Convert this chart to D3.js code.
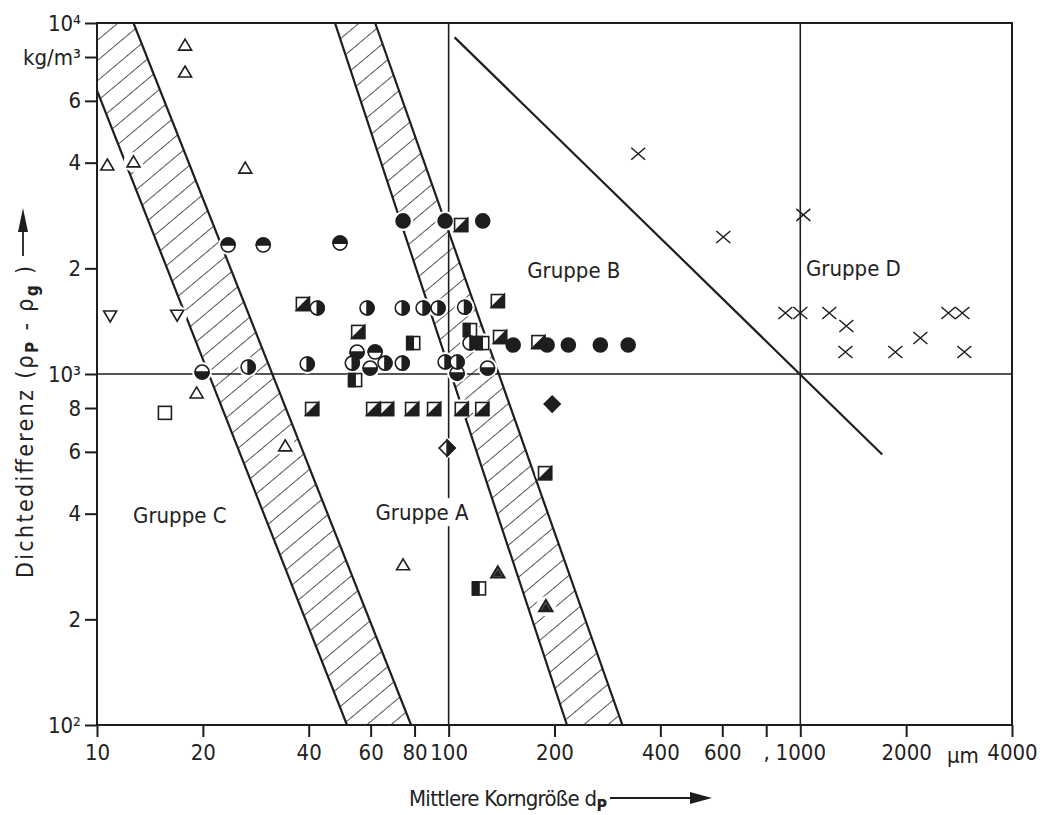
<!DOCTYPE html>
<html>
<head>
<meta charset="utf-8">
<script src="https://cdn.jsdelivr.net/npm/d3@7"></script>
<style>
body { margin: 0; background: #fff; }
svg text { font-family: "DejaVu Sans Condensed", "Liberation Sans Narrow", "DejaVu Sans", sans-serif; fill: #222; }
</style>
</head>
<body>
<svg></svg>
<script>
const width = 1048;
const height = 815;

// axes
const xTicks = [10, 20, 40, 60, 80, 100, 200, 400, 600, 800, 1000, 2000, 4000];
const xTickLabels = ['10', '20', '40', '60', '80', '100', '200', '400', '600', ',', '1000', '2000', '4000'];
const yTicks = [100, 200, 400, 600, 800, 1000, 2000, 4000, 6000, 8000, 10000];
const yTickLabels = ['10²', '2', '4', '6', '8', '10³', '2', '4', '6', 'kg/m³', '10⁴'];
const gridX = [100, 1000];
const gridY = [1000];

// group boundaries [d in µm, density difference in kg/m³]
const bandCA = [[8.4, 10000], [51.4, 100], [78.2, 100], [12.7, 10000]];
const bandAB = [[47.5, 10000], [217, 100], [312, 100], [61.8, 10000]];
const lineBD = [[104, 9100], [1710, 590]];

const groupNames = ['Gruppe C', 'Gruppe A', 'Gruppe B', 'Gruppe D'];
const groupAnchors = [[17.2, 397], [84, 404], [227, 1978], [1416, 2004]];

// measured substances
const triUp = [[17.8, 8650], [17.8, 7250], [10.7, 3940], [12.7, 4020], [26.4, 3860], [19.2, 883], [34.3, 624], [74.2, 286]];
const triDown = [[10.9, 1463], [16.9, 1470]];
const triFilled = [[138, 272], [189, 218]];
const squareOpen = [[15.6, 775]];
const squareDiag = [[38.5, 1583], [55.3, 1318], [138, 1614], [140, 1275], [180, 1233], [108.5, 2658], [188, 522],
	[40.9, 795], [61.0, 795], [66.8, 795], [78.7, 795], [90.9, 795], [109, 795], [124.6, 795]];
const squareHalf = [[79.3, 1225], [115, 1334], [124.6, 1225], [54.2, 961], [122, 245]];
const circleTop = [[23.6, 2330], [29.7, 2330], [49.1, 2360], [61.8, 1155]];
const circleBottom = [[19.9, 1013], [54.9, 1155], [59.8, 1040], [105.7, 1006], [129, 1040]];
const circleRight = [[42.3, 1542], [58.6, 1542], [73.8, 1542], [84.6, 1542], [93.3, 1542], [111, 1550],
	[26.9, 1047], [39.6, 1068], [53.2, 1074], [65.9, 1074], [73.8, 1074], [97.7, 1082], [105.7, 1082], [115, 1225]];
const dots = [[74.2, 2730], [97.7, 2730], [125, 2730], [152.6, 1209], [190.6, 1209], [219, 1209], [270, 1209], [324, 1209]];
const diamondFilled = [[197, 821]];
const diamondHalf = [[99, 615]];
const crosses = [[346, 4240], [604, 2456], [1020, 2840], [907, 1492], [1000, 1492], [1209, 1492], [1352, 1370],
	[1344, 1155], [1864, 1155], [2195, 1266], [2637, 1492], [2890, 1492], [2928, 1155]];

const ink = '#1e1e1e';

const svg = d3.select('svg')
	.attr('width', width)
	.attr('height', height);

const x = d3.scaleLog().domain([10, 4000]).range([97, 1012]);
const y = d3.scaleLog().domain([100, 10000]).range([725, 23]);

const defs = svg.append('defs');
defs.append('clipPath').attr('id', 'plot')
	.append('rect')
	.attr('x', x(10)).attr('y', y(10000))
	.attr('width', x(4000) - x(10)).attr('height', y(100) - y(10000));
defs.append('pattern')
	.attr('id', 'hatch')
	.attr('patternUnits', 'userSpaceOnUse')
	.attr('width', 15.5).attr('height', 15.5)
	.attr('patternTransform', 'rotate(50)')
	.append('line')
	.attr('x1', 0).attr('y1', 0).attr('x2', 0).attr('y2', 15.5)
	.attr('stroke', ink).attr('stroke-width', 1.5);

const plot = svg.append('g').attr('clip-path', 'url(#plot)');

// grid lines
plot.selectAll('.gx').data(gridX).enter().append('line')
	.attr('x1', d => x(d)).attr('x2', d => x(d))
	.attr('y1', y(10000)).attr('y2', y(100))
	.attr('stroke', ink).attr('stroke-width', 1.6);
plot.selectAll('.gy').data(gridY).enter().append('line')
	.attr('x1', x(10)).attr('x2', x(4000))
	.attr('y1', d => y(d)).attr('y2', d => y(d))
	.attr('stroke', ink).attr('stroke-width', 1.6);

// hatched bands
const pt = d => [x(d[0]), y(d[1])];
[bandCA, bandAB].forEach(band => {
	plot.append('polygon')
		.attr('points', band.map(pt).map(p => p.join(',')).join(' '))
		.attr('fill', 'url(#hatch)');
	[[band[0], band[1]], [band[2], band[3]]].forEach(seg => {
		plot.append('line')
			.attr('x1', x(seg[0][0])).attr('y1', y(seg[0][1]))
			.attr('x2', x(seg[1][0])).attr('y2', y(seg[1][1]))
			.attr('stroke', ink).attr('stroke-width', 2.2);
	});
});

plot.append('path')
	.attr('d', d3.line()(lineBD.map(pt)))
	.attr('stroke', ink).attr('stroke-width', 2.2).attr('fill', 'none');

// group labels with white background
const labels = plot.selectAll('.grp').data(groupNames).enter().append('g')
	.attr('transform', (d, i) => `translate(${x(groupAnchors[i][0])},${y(groupAnchors[i][1])})`);
labels.append('rect')
	.attr('x', -52).attr('y', -14).attr('width', 104).attr('height', 28)
	.attr('fill', '#fff');
labels.append('text')
	.attr('text-anchor', 'middle')
	.attr('dy', '0.36em')
	.attr('font-size', 22)
	.text(d => d);

// markers
const sets = [
	['triUp', triUp], ['triDown', triDown], ['triFilled', triFilled], ['squareOpen', squareOpen],
	['squareDiag', squareDiag], ['squareHalf', squareHalf], ['circleTop', circleTop],
	['circleBottom', circleBottom], ['circleRight', circleRight], ['dot', dots],
	['diamondFilled', diamondFilled], ['diamondHalf', diamondHalf], ['cross', crosses]
];
const allMarks = [];
sets.forEach(s => s[1].forEach(d => allMarks.push({ type: s[0], d: d[0], r: d[1] })));

// white halos first, so that lines break around the marks
plot.selectAll('.halo').data(allMarks.filter(m => m.type !== 'cross')).enter().append('circle')
	.attr('cx', m => x(m.d)).attr('cy', m => y(m.r))
	.attr('r', 10).attr('fill', '#fff');

const r = 7;
const s = 6.5;
const marks = plot.selectAll('.mark').data(allMarks).enter().append('g')
	.attr('transform', m => `translate(${x(m.d)},${y(m.r)})`)
	.attr('stroke', ink).attr('stroke-width', 1.6).attr('fill', '#fff');

marks.each(function (m) {
	const g = d3.select(this);
	switch (m.type) {
	case 'triUp':
		g.append('path').attr('d', 'M0,-6L6.5,5L-6.5,5Z');
		break;
	case 'triDown':
		g.append('path').attr('d', 'M0,6L6.5,-5L-6.5,-5Z');
		break;
	case 'triFilled':
		g.append('path').attr('d', 'M0,-6L6.5,5L-6.5,5Z').attr('stroke-width', 2.2);
		g.append('path').attr('d', 'M0,-2L3,3L-3,3Z').attr('fill', ink);
		break;
	case 'squareOpen':
		g.append('rect').attr('x', -s).attr('y', -s).attr('width', 2 * s).attr('height', 2 * s);
		break;
	case 'squareDiag':
		g.append('rect').attr('x', -s).attr('y', -s).attr('width', 2 * s).attr('height', 2 * s);
		g.append('path').attr('d', `M${s},${-s}L${s},${s}L${-s},${s}Z`).attr('fill', ink);
		break;
	case 'squareHalf':
		g.append('rect').attr('x', -s).attr('y', -s).attr('width', 2 * s).attr('height', 2 * s);
		g.append('rect').attr('x', -s).attr('y', -s).attr('width', s).attr('height', 2 * s).attr('fill', ink);
		break;
	case 'circleTop':
		g.append('circle').attr('r', r);
		g.append('path').attr('d', `M${-r},0A${r},${r} 0 0 1 ${r},0Z`).attr('fill', ink);
		break;
	case 'circleBottom':
		g.append('circle').attr('r', r);
		g.append('path').attr('d', `M${-r},0A${r},${r} 0 0 0 ${r},0Z`).attr('fill', ink);
		break;
	case 'circleRight':
		g.append('circle').attr('r', r);
		g.append('path').attr('d', `M0,${-r}A${r},${r} 0 0 1 0,${r}Z`).attr('fill', ink);
		break;
	case 'dot':
		g.append('circle').attr('r', r).attr('fill', ink);
		break;
	case 'diamondFilled':
		g.append('path').attr('d', 'M0,-8L8,0L0,8L-8,0Z').attr('fill', ink);
		break;
	case 'diamondHalf':
		g.append('path').attr('d', 'M0,-8L8,0L0,8L-8,0Z');
		g.append('path').attr('d', 'M0,-8L8,0L0,8Z').attr('fill', ink);
		break;
	case 'cross':
		g.append('path').attr('d', 'M-7,-6L7,6M-7,6L7,-6').attr('stroke-width', 1.5);
		break;
	}
});

// frame
svg.append('rect')
	.attr('x', x(10)).attr('y', y(10000))
	.attr('width', x(4000) - x(10)).attr('height', y(100) - y(10000))
	.attr('fill', 'none').attr('stroke', ink).attr('stroke-width', 2);

// axes
const xAxis = svg.append('g')
	.attr('transform', `translate(0,${y(100)})`)
	.call(d3.axisBottom(x).tickValues(xTicks).tickFormat((d, i) => xTickLabels[i]).tickSize(12).tickPadding(7));
const yAxis = svg.append('g')
	.attr('transform', `translate(${x(10)},0)`)
	.call(d3.axisLeft(y).tickValues(yTicks).tickFormat((d, i) => yTickLabels[i]).tickSize(12).tickPadding(4));
[xAxis, yAxis].forEach(a => {
	a.select('.domain').remove();
	a.selectAll('line').attr('stroke', ink).attr('stroke-width', 2);
	a.selectAll('text').attr('font-size', 22).attr('fill', '#222');
});
xAxis.append('text')
	.attr('x', x(2900)).attr('y', 38)
	.attr('text-anchor', 'middle').attr('font-size', 22)
	.text('µm');

// axis titles
const yTitle = svg.append('text')
	.attr('transform', 'translate(33,578) rotate(-90)')
	.attr('font-size', 23)
	.attr('textLength', 312)
	.attr('lengthAdjust', 'spacing');
yTitle.append('tspan').text('Dichtedifferenz  (ρ');
yTitle.append('tspan').attr('font-size', 17).attr('font-weight', 'bold').attr('dy', 5).text('P');
yTitle.append('tspan').attr('dy', -5).text(' - ρ');
yTitle.append('tspan').attr('font-size', 17).attr('font-weight', 'bold').attr('dy', 5).text('g');
yTitle.append('tspan').attr('dy', -5).text(' )');
svg.append('line')
	.attr('x1', 23).attr('x2', 23)
	.attr('y1', 256).attr('y2', 225)
	.attr('stroke', ink).attr('stroke-width', 1.8);
svg.append('path').attr('d', 'M23,208L28,232L18,232Z').attr('fill', ink);

const xTitle = svg.append('text')
	.attr('x', 409).attr('y', 806)
	.attr('font-size', 22)
	.attr('textLength', 198)
	.attr('lengthAdjust', 'spacing');
xTitle.append('tspan').text('Mittlere Korngröße d');
xTitle.append('tspan').attr('font-size', 16).attr('font-weight', 'bold').attr('dy', 5).text('P');
svg.append('line')
	.attr('x1', 610).attr('x2', 692)
	.attr('y1', 798).attr('y2', 798)
	.attr('stroke', ink).attr('stroke-width', 1.8);
svg.append('path').attr('d', 'M712,798L690,792L690,804Z').attr('fill', ink);
</script>
</body>
</html>
